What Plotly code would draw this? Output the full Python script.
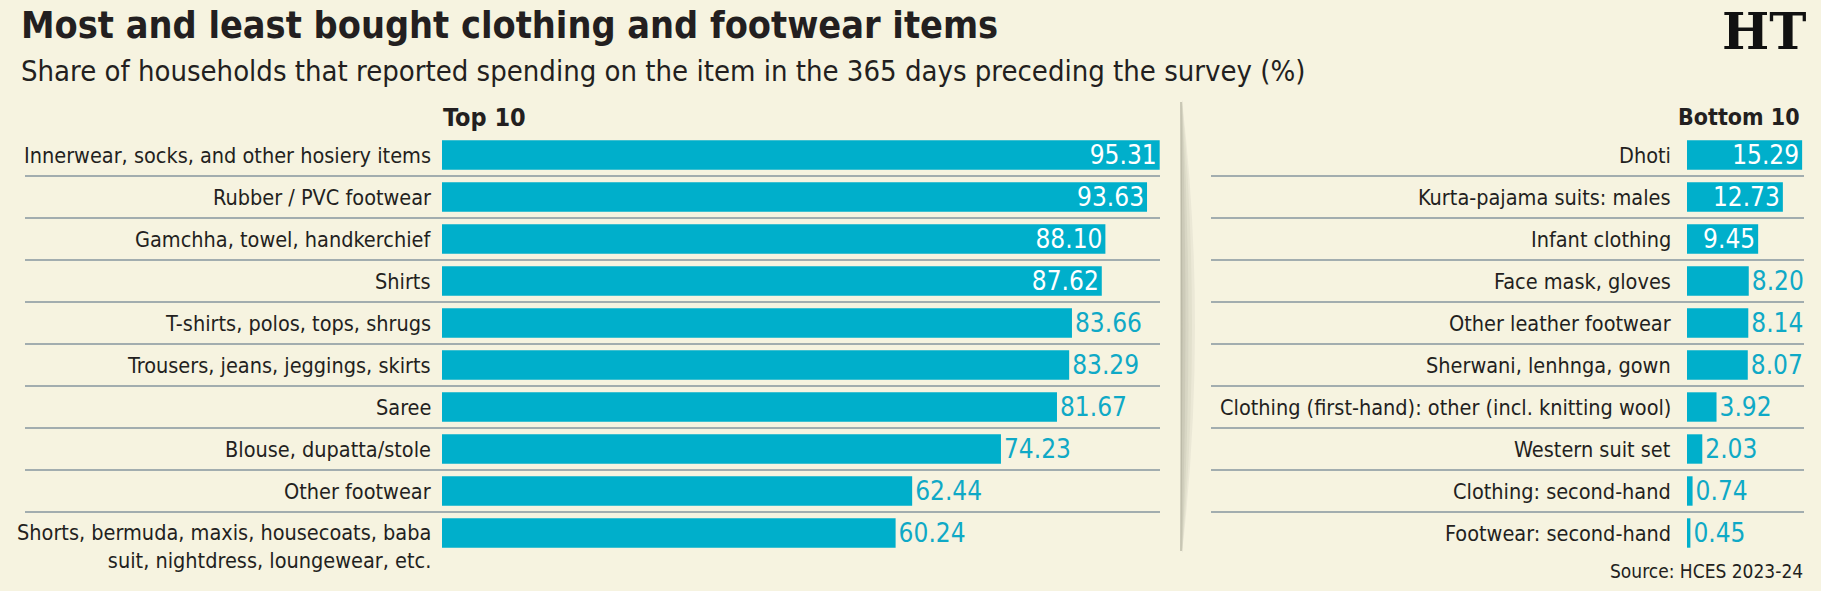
import plotly.graph_objects as go

# ---- data ----
top_items = [
    "Innerwear, socks, and other hosiery items",
    "Rubber / PVC footwear",
    "Gamchha, towel, handkerchief",
    "Shirts",
    "T-shirts, polos, tops, shrugs",
    "Trousers, jeans, jeggings, skirts",
    "Saree",
    "Blouse, dupatta/stole",
    "Other footwear",
    "Shorts, bermuda, maxis, housecoats, baba<br>suit, nightdress, loungewear, etc.",
]
top_values = [95.31, 93.63, 88.10, 87.62, 83.66, 83.29, 81.67, 74.23, 62.44, 60.24]

bottom_items = [
    "Dhoti",
    "Kurta-pajama suits: males",
    "Infant clothing",
    "Face mask, gloves",
    "Other leather footwear",
    "Sherwani, lenhnga, gown",
    "Clothing (first-hand): other (incl. knitting wool)",
    "Western suit set",
    "Clothing: second-hand",
    "Footwear: second-hand",
]
bottom_values = [15.29, 12.73, 9.45, 8.20, 8.14, 8.07, 3.92, 2.03, 0.74, 0.45]

top_inside = 4
bottom_inside = 3

title = "Most and least bought clothing and footwear items"
subtitle = "Share of households that reported spending on the item in the 365 days preceding the survey (%)"
source = "Source: HCES 2023-24"

# ---- style ----
W, H = 1821, 591
BG = "#f6f3e0"
BAR = "#00afcb"
TEAL = "#0fa9c6"
DARK = "#231f20"
RULE = "#a2adaf"
COND = "DejaVu Sans Condensed, Liberation Sans Narrow, sans-serif"
LBL = 21.5

def px(x):
    return x / W

def py(y):
    return (H - y) / H

fig = go.Figure()

def add_panel(items, values, n_inside, xa, ya):
    pos = ["inside"] * n_inside + ["outside"] * (len(values) - n_inside)
    cols = ["white"] * n_inside + [TEAL] * (len(values) - n_inside)
    fig.add_trace(go.Bar(
        y=items, x=values, orientation="h",
        marker=dict(color=BAR, line=dict(width=0)),
        width=0.7,
        text=[f"{v:.2f}" for v in values],
        textposition=pos,
        insidetextanchor="end",
        textfont=dict(family=COND, size=26, color=cols),
        constraintext="none",
        cliponaxis=False,
        xaxis=xa, yaxis=ya,
        hoverinfo="skip",
        showlegend=False,
    ))

add_panel(top_items, top_values, top_inside, "x", "y")
add_panel(bottom_items, bottom_values, bottom_inside, "x2", "y2")

ydom = [37 / H, 457 / H]
fig.update_layout(
    width=W, height=H,
    margin=dict(l=0, r=0, t=0, b=0),
    paper_bgcolor=BG, plot_bgcolor="rgba(0,0,0,0)",
    xaxis=dict(domain=[px(442), px(442 + 7.53 * 100)], range=[0, 100],
               visible=False, fixedrange=True),
    yaxis=dict(domain=ydom, type="category", categoryorder="array",
               categoryarray=top_items, range=[9.5, -0.5], visible=False),
    xaxis2=dict(domain=[px(1687), px(1687 + 7.53 * 17)], range=[0, 17],
                visible=False, anchor="y2"),
    yaxis2=dict(domain=ydom, type="category", categoryorder="array",
                categoryarray=bottom_items, range=[9.5, -0.5], visible=False,
                anchor="x2"),
)

shapes = []
# row rules
for i in range(len(top_items) - 1):
    shapes.append(dict(type="line", xref="paper", yref="y",
                       x0=px(25), x1=px(1160), y0=i + 0.5, y1=i + 0.5,
                       line=dict(color=RULE, width=2)))
for i in range(len(bottom_items) - 1):
    shapes.append(dict(type="line", xref="paper", yref="y2",
                       x0=px(1211), x1=px(1804), y0=i + 0.5, y1=i + 0.5,
                       line=dict(color=RULE, width=2)))

# divider (page fold shadow)
def crescent(x0, bulge, ytop, ybot):
    ym = (ytop + ybot) / 2
    return (f"M {px(x0)},{py(ytop)} Q {px(x0 + bulge)},{py(ym)} {px(x0)},{py(ybot)} Z")

for bulge, col in [(26, "#ebe8d6"), (20, "#e2e0cd"), (13, "#d8d6c4"), (7, "#cdcbb9")]:
    shapes.append(dict(type="path", xref="paper", yref="paper",
                       path=crescent(1182, bulge, 100, 553),
                       fillcolor=col, line=dict(width=0)))
shapes.append(dict(type="path", xref="paper", yref="paper",
                   path=crescent(1181, 2, 102, 551),
                   fillcolor="#bcbaa8", line=dict(color="#bcbaa8", width=1)))
fig.update_layout(shapes=shapes)

ann = []
# title / subtitle
ann.append(dict(text=f"<b>{title}</b>", x=px(19), y=py(25), xref="paper", yref="paper",
                xanchor="left", yanchor="middle", showarrow=False,
                font=dict(family=COND, size=37.5, color=DARK)))
ann.append(dict(text=subtitle, x=px(19), y=py(71), xref="paper", yref="paper",
                xanchor="left", yanchor="middle", showarrow=False,
                font=dict(family=COND, size=29, color=DARK)))
ann.append(dict(text="<b>Top 10</b>", x=px(441), y=py(117), xref="paper", yref="paper",
                xanchor="left", yanchor="middle", showarrow=False,
                font=dict(family=COND, size=25, color=DARK)))
ann.append(dict(text="<b>Bottom 10</b>", x=px(1802), y=py(117), xref="paper", yref="paper",
                xanchor="right", yanchor="middle", showarrow=False,
                font=dict(family=COND, size=23, color=DARK)))
ann.append(dict(text=source, x=px(1805), y=py(571), xref="paper", yref="paper",
                xanchor="right", yanchor="middle", showarrow=False,
                font=dict(family=COND, size=19, color=DARK)))
ann.append(dict(text="<b>HT</b>", x=px(1808), y=py(32), xref="paper", yref="paper",
                xanchor="right", yanchor="middle", showarrow=False,
                font=dict(family="DejaVu Serif, Liberation Serif, serif", size=50, color="#111111")))

# category labels
for i, it in enumerate(top_items):
    multi = "<br>" in it
    ann.append(dict(text=it, x=px(433), y=it, xref="paper", yref="y",
                    xanchor="right", yanchor="top" if multi else "middle",
                    yshift=15 if multi else 0, align="right", showarrow=False,
                    font=dict(family=COND, size=LBL, color=DARK)))
for it in bottom_items:
    ann.append(dict(text=it, x=px(1673), y=it, xref="paper", yref="y2",
                    xanchor="right", yanchor="middle", align="right", showarrow=False,
                    font=dict(family=COND, size=LBL, color=DARK)))

fig.update_layout(annotations=ann)
fig.write_html("out.html")
